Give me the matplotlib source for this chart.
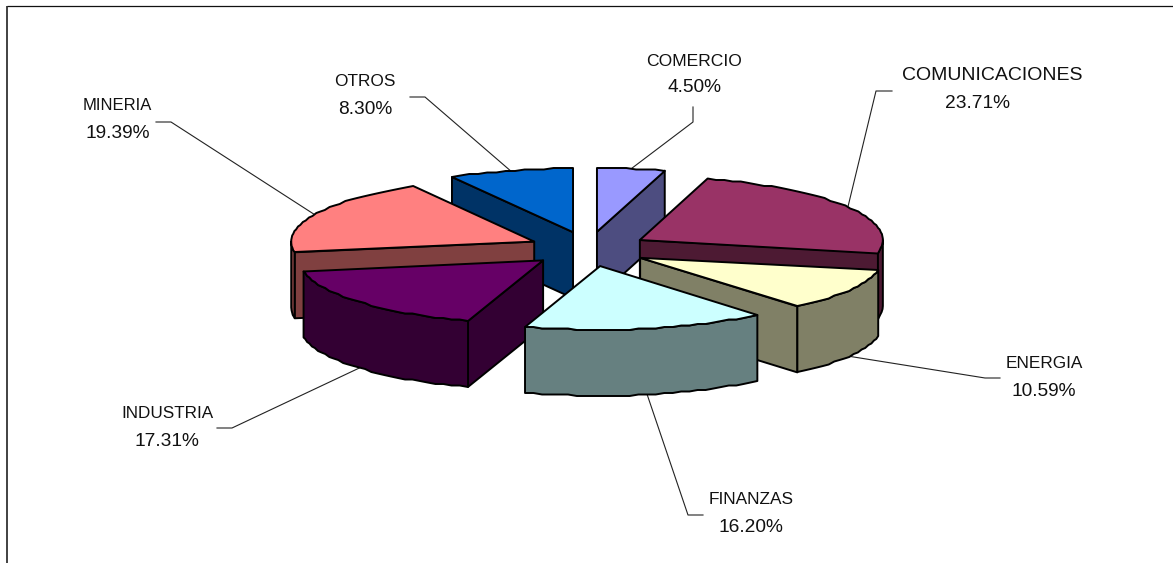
import numpy as np
import matplotlib
matplotlib.use('Agg')
import matplotlib.pyplot as plt
from matplotlib.patches import Polygon

plt.rcParams['font.family'] = ['Liberation Sans', 'DejaVu Sans']

# clockwise from 12 o'clock
names = ['COMERCIO', 'COMUNICACIONES', 'ENERGIA', 'FINANZAS', 'INDUSTRIA', 'MINERIA', 'OTROS']
shares = [4.50, 23.71, 10.59, 16.20, 17.31, 19.39, 8.30]
top_colors = ['#9999FF', '#993366', '#FFFFCC', '#CCFFFF', '#660066', '#FF8080', '#0066CC']
side_colors = ['#4D4D80', '#4D1A33', '#808066', '#668080', '#330033', '#804040', '#003366']

# label centres in pixels: name, percent, then leader elbow and tail
name_pos = [(694, 61), (992, 76), (1044, 364), (751, 500), (167, 413), (117, 106), (365, 81)]
pct_pos = [(694, 88), (978, 104), (1044, 392), (751, 528), (167, 441), (118, 134), (365, 109)]
elbows = [(693, 122), (876, 91), (985, 378), (688, 515), (232, 428), (171, 122), (425, 97)]
tails = [(693, 107), (892, 91), (1000, 378), (703, 515), (217, 428), (156, 122), (410, 97)]
name_sizes = [12.6, 14.0, 12.4, 12.4, 12.3, 12.0, 12.4]

cx, cy = 588.5, 249
radius = 243
squash = 0.262
explode = 60
explode_squash = 0.29
depth = 66


def rim(apex, th):
    return apex[0] + radius * np.sin(th), apex[1] - radius * squash * np.cos(th)


def bumpy(x, y):
    # the original rim is a coarse, slightly wavy polyline
    return x, np.round(y / 1.5) * 1.5


fig = plt.figure(figsize=(11.73, 5.63), dpi=100)
ax = fig.add_axes([0, 0, 1, 1])
ax.set_xlim(0, 1173)
ax.set_ylim(563, 0)
ax.axis('off')

ax.plot([6.5, 6.5], [563, 5.5], color='#333333', lw=1.3, solid_capstyle='butt')
ax.plot([6.5, 1173], [5.5, 5.5], color='#111111', lw=0.9, solid_capstyle='butt')

fractions = np.array(shares) / sum(shares)
ends = np.cumsum(fractions) * 2 * np.pi
starts = ends - fractions * 2 * np.pi
mids = (starts + ends) / 2
apexes = [(cx + explode * np.sin(m), cy - explode * explode_squash * np.cos(m)) for m in mids]
outline = dict(edgecolor='black', lw=1.4, joinstyle='round')

for i in np.argsort(-np.cos(mids)):
    a0, a1, apex = starts[i], ends[i], apexes[i]
    ax_, ay_ = apex

    # radial faces that look towards the viewer
    for th, visible in ((a0, np.sin(a0) < -1e-6), (a1, np.sin(a1) > 1e-6)):
        if visible:
            rx, ry = rim(apex, th)
            ax.add_patch(Polygon([(ax_, ay_), (rx, ry), (rx, ry + depth), (ax_, ay_ + depth)],
                                 facecolor=side_colors[i], **outline))

    # outer wall, front half of the pie only
    w0, w1 = max(a0, np.pi / 2), min(a1, 3 * np.pi / 2)
    if w1 > w0:
        th = np.linspace(w0, w1, max(int(np.degrees(w1 - w0) / 2), 2))
        x, y = bumpy(*rim(apex, th))
        wall = np.r_[np.c_[x, y], np.c_[x, y + depth][::-1]]
        ax.add_patch(Polygon(wall, facecolor=side_colors[i], **outline))

    # top face
    th = np.linspace(a0, a1, max(int(np.degrees(a1 - a0) / 2), 2))
    x, y = bumpy(*rim(apex, th))
    ax.add_patch(Polygon(np.r_[[apex], np.c_[x, y]], facecolor=top_colors[i], **outline))

for i, name in enumerate(names):
    sx, sy = rim(apexes[i], mids[i])
    if np.cos(mids[i]) < 0:
        sy += depth
    ax.plot([sx, elbows[i][0], tails[i][0]], [sy, elbows[i][1], tails[i][1]],
            color='#222222', lw=0.8, zorder=0.5)
    ax.text(*name_pos[i], name, ha='center', va='center', fontsize=name_sizes[i], color='#111111')
    ax.text(*pct_pos[i], f'{shares[i]:.2f}%', ha='center', va='center', fontsize=13.8, color='#111111')

fig.savefig('out.png', dpi=100)
